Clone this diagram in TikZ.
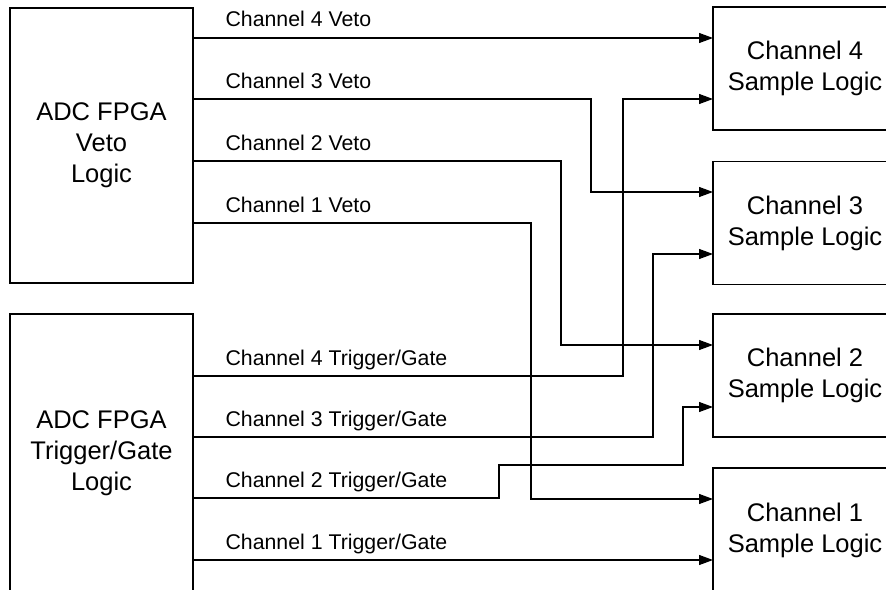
\documentclass[tikz,border=0pt]{standalone}
\usepackage{fontspec}
\setmainfont{Liberation Sans}
\usetikzlibrary{arrows.meta}
\begin{document}
\begin{tikzpicture}[x=1pt, y=-1pt, >={Triangle[length=14pt,width=10pt]}, line width=1.1pt, line join=miter,
		box/.style={draw, line width=1.1pt, align=center, inner sep=0pt, font=\fontsize{25.5}{31}\selectfont},
		lbl/.style={anchor=base west, inner sep=0pt, font=\fontsize{21.3}{25}\selectfont}]
				\useasboundingbox (0,0) rectangle (886,589);
				\clip (0,0) rectangle (886,589);
				
				% left logic blocks
				\node[box, minimum width=183pt, minimum height=275pt] (veto) at (101.5,145.5) {ADC FPGA\\Veto\\Logic};
				\node[box, minimum width=183pt, minimum height=279pt] (trig) at (101.5,453.5) {ADC FPGA\\Trigger/Gate\\Logic};
				
				% channel sample logic blocks
				\node[box, minimum width=184pt, minimum height=123pt] (ch4) at (805,68.5) {Channel 4\\Sample Logic};
				\node[box, minimum width=184pt, minimum height=123pt] (ch3) at (805,223) {Channel 3\\Sample Logic};
				\node[box, minimum width=184pt, minimum height=123pt] (ch2) at (805,375.5) {Channel 2\\Sample Logic};
				\node[box, minimum width=184pt, minimum height=125pt] (ch1) at (805,530.5) {Channel 1\\Sample Logic};
				
				% outputs
				\coordinate (V4) at (193,38);
				\coordinate (V3) at (193,99);
				\coordinate (V2) at (193,161);
				\coordinate (V1) at (193,223);
				\coordinate (T4) at (193,376);
				\coordinate (T3) at (193,437);
				\coordinate (T2) at (193,498);
				\coordinate (T1) at (193,560);
				
				% inputs
				\coordinate (I4a) at (713,38);
				\coordinate (I4b) at (713,99);
				\coordinate (I3a) at (713,192);
				\coordinate (I3b) at (713,254);
				\coordinate (I2a) at (713,345);
				\coordinate (I2b) at (713,407);
				\coordinate (I1a) at (713,499);
				\coordinate (I1b) at (713,560);
				
				\draw[->] (V4) -- (I4a);
				\draw[->] (V3) -| (591,192) -- (I3a);
				\draw[->] (V2) -| (561,345) -- (I2a);
				\draw[->] (V1) -| (531,499) -- (I1a);
				\draw[->] (T4) -| (623,99) -- (I4b);
				\draw[->] (T3) -| (653,254) -- (I3b);
				\draw[->] (T2) -| (499,465) -| (683,407) -- (I2b);
				\draw[->] (T1) -- (I1b);
				
				% signal labels
				\node[lbl] (l4v) at (225,27) {Channel 4 Veto};
				\node[lbl] (l3v) at (225,88) {Channel 3 Veto};
				\node[lbl] (l2v) at (225,150) {Channel 2 Veto};
				\node[lbl] (l1v) at (225,212) {Channel 1 Veto};
				\node[lbl] (l4t) at (225,365) {Channel 4 Trigger/Gate};
				\node[lbl] (l3t) at (225,426) {Channel 3 Trigger/Gate};
				\node[lbl] (l2t) at (225,487) {Channel 2 Trigger/Gate};
				\node[lbl] (l1t) at (225,549) {Channel 1 Trigger/Gate};
		\end{tikzpicture}
\end{document}
